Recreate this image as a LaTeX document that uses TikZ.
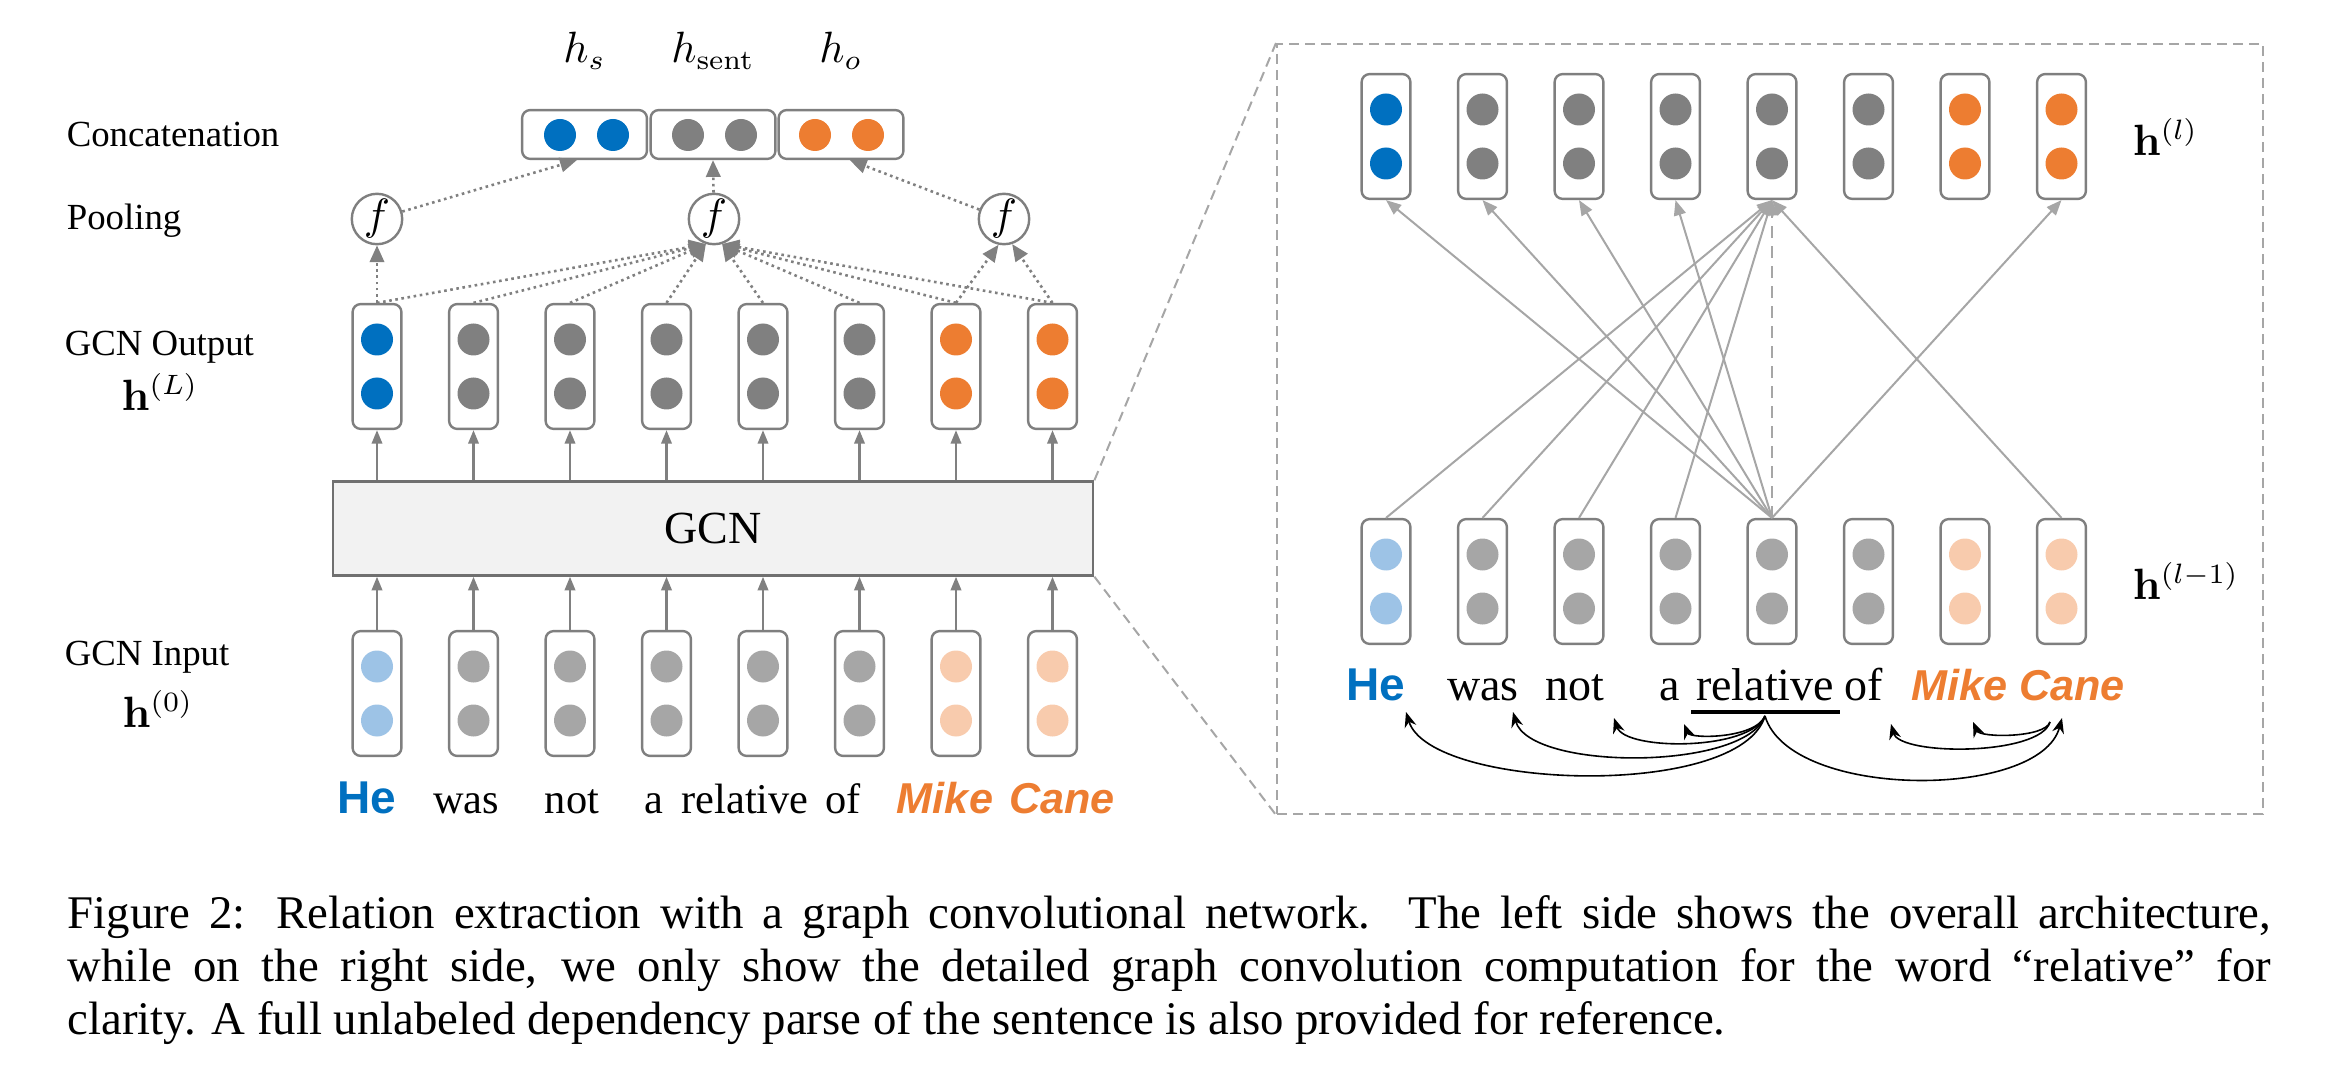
\documentclass[tikz,border=0pt]{standalone}
\usepackage[no-math]{fontspec}
\setmainfont{Liberation Serif}
\newfontfamily\sansf{Liberation Sans}
\usetikzlibrary{arrows.meta,calc}
\definecolor{cblue}{HTML}{0070C0}
\definecolor{lblue}{HTML}{9DC3E6}
\definecolor{cgray}{HTML}{808080}
\definecolor{lgray}{HTML}{A6A6A6}
\definecolor{corange}{HTML}{ED7D31}
\definecolor{lorange}{HTML}{F8CBAD}
\definecolor{bord}{HTML}{7F7F7F}
\definecolor{gcnfill}{HTML}{F2F2F2}
\definecolor{gcnbord}{HTML}{707070}
\begin{document}
\begin{tikzpicture}[x=0.25pt,y=-0.25pt,
  vbox/.style={draw=bord, line width=0.6pt, rounded corners=2pt, minimum width=12.2pt, minimum height=31.2pt, inner sep=0pt},
  cbox/.style={draw=bord, line width=0.6pt, rounded corners=2pt, minimum width=31.2pt, minimum height=12.2pt, inner sep=0pt},
  gcnbox/.style={draw=gcnbord, fill=gcnfill, line width=0.7pt, minimum width=190pt, minimum height=23.4pt, inner sep=0pt, font=\fontsize{11.5pt}{13pt}\selectfont},
  pool/.style={draw=bord, line width=0.6pt, circle, minimum size=12.6pt, inner sep=0pt, font=\fontsize{10.5pt}{12pt}\selectfont},
  solidarr/.style={draw=cgray, line width=0.6pt, -{Triangle[length=3.4pt,width=2.6pt]}},
  dotarr/.style={draw=cgray, line width=0.65pt, dash pattern=on 0.65pt off 0.9pt, -{Triangle[length=4.2pt,width=3.6pt]}},
  garr/.style={draw=lgray, line width=0.5pt, -{Triangle[length=3.8pt,width=3pt]}},
  parr/.style={draw=black, line width=0.4pt, -{Stealth[length=3.8pt,width=3pt]}},
  lab/.style={font=\fontsize{9.2pt}{11pt}\selectfont, inner sep=0pt, anchor=base west},
  mlab/.style={font=\fontsize{10.5pt}{12pt}\selectfont, inner sep=0pt},
  word/.style={font=\fontsize{11.5pt}{13pt}\selectfont, inner sep=0pt, anchor=base},
  lword/.style={font=\fontsize{10.6pt}{13pt}\selectfont, inner sep=0pt, anchor=base},
  sword/.style={font=\fontsize{10.8pt}{13pt}\selectfont\sansf\bfseries\itshape, text=corange, inner sep=0pt, anchor=base},
  heword/.style={font=\fontsize{11.5pt}{13pt}\selectfont\sansf\bfseries, text=cblue, inner sep=0pt, anchor=base},
  dashbox/.style={draw=lgray, line width=0.5pt, dash pattern=on 2.5pt off 1.5pt, minimum width=246.5pt, minimum height=192.5pt, inner sep=0pt, anchor=north west},
  dashline/.style={draw=lgray, line width=0.5pt, dash pattern=on 2.5pt off 1.5pt}
]
\useasboundingbox (0,0) rectangle (2326,1080);

% ---------- left labels ----------
\node[lab] (lconcat) at (66,147) {Concatenation};
\node[lab] (lpool) at (66,230) {Pooling};
\node[lab] (lout) at (64,355) {GCN Output};
\node[mlab] (hL) at (160,392) {$\mathbf{h}^{(L)}$};
\node[lab] (lin) at (64,665) {GCN Input};
\node[mlab] (h0) at (158,709) {$\mathbf{h}^{(0)}$};

% ---------- concatenation ----------
\node[cbox] (c1) at (584.5,134.5) {};
\node[cbox] (c2) at (713,134.5) {};
\node[cbox] (c3) at (841,134.5) {};
\fill[cblue] (560,135) circle[radius=4pt] (613,135) circle[radius=4pt];
\fill[cgray] (688,135) circle[radius=4pt] (741,135) circle[radius=4pt];
\fill[corange] (815,135) circle[radius=4pt] (868,135) circle[radius=4pt];
\node[mlab, anchor=base] (hs) at (584.5,63) {$h_s$};
\node[mlab, anchor=base] (hsent) at (713,63) {$h_{\mathrm{sent}}$};
\node[mlab, anchor=base] (ho) at (841,63) {$h_o$};

% ---------- pooling ----------
\node[pool] (pL) at (377,219) {$f$};
\node[pool] (pM) at (714,219) {$f$};
\node[pool] (pR) at (1004,219) {$f$};
\draw[dotarr] (pL) -- ([xshift=-1.9pt]c1.south);
\draw[dotarr] (pM) -- (c2.south);
\draw[dotarr] (pR) -- ([xshift=2.2pt]c3.south);

% ---------- GCN ----------
\node[gcnbox] (gcn) at (713,528.5) {GCN};

% ---------- left columns ----------
\foreach \i/\c/\lc in {1/cblue/lblue,2/cgray/lgray,3/cgray/lgray,4/cgray/lgray,5/cgray/lgray,6/cgray/lgray,7/corange/lorange,8/corange/lorange}{
  \pgfmathsetmacro\xx{377+96.5*(\i-1)}
  \node[vbox] (o\i) at (\xx,366.5) {};
  \fill[\c] (\xx,339.5) circle[radius=4pt] (\xx,393.5) circle[radius=4pt];
  \node[vbox] (i\i) at (\xx,693.5) {};
  \fill[\lc] (\xx,666.5) circle[radius=4pt] (\xx,720.5) circle[radius=4pt];
  \draw[solidarr] (gcn.north -| o\i.south) -- (o\i.south);
  \draw[solidarr] (i\i.north) -- (i\i.north |- gcn.south);
}
\draw[dotarr] (o1.north) -- (pL.south);
\foreach \i in {1,2,3,4}{\draw[dotarr] (o\i.north) -- (pM.252);}
\foreach \i in {5,6,7,8}{\draw[dotarr] (o\i.north) -- (pM.288);}
\draw[dotarr] (o7.north) -- (pR.258);
\draw[dotarr] (o8.north) -- (pR.288);

% ---------- left words ----------
\node[heword] (lHe) at (367,813) {He};
\node[lword] (lwas) at (466,813) {was};
\node[lword] (lnot) at (572,813) {not};
\node[lword] (la) at (654,813) {a};
\node[lword] (lrel) at (745,813) {relative};
\node[lword] (lof) at (843,813) {of};
\node[sword] (lMike) at (945,813) {Mike};
\node[sword] (lCane) at (1062,813) {Cane};

% ---------- zoom box ----------
\node[dashbox] (zoom) at (1276,43) {};
\draw[dashline] (gcn.north east) -- (zoom.north west);
\draw[dashline] (gcn.south east) -- (zoom.south west);

% ---------- right columns ----------
\foreach \i/\c/\lc in {1/cblue/lblue,2/cgray/lgray,3/cgray/lgray,4/cgray/lgray,5/cgray/lgray,6/cgray/lgray,7/corange/lorange,8/corange/lorange}{
  \pgfmathsetmacro\xx{1386+96.5*(\i-1)}
  \node[vbox] (t\i) at (\xx,136.5) {};
  \fill[\c] (\xx,109.5) circle[radius=4pt] (\xx,163.5) circle[radius=4pt];
  \node[vbox] (b\i) at (\xx,581.5) {};
  \fill[\lc] (\xx,554.5) circle[radius=4pt] (\xx,608.5) circle[radius=4pt];
}
\foreach \j in {1,2,3,4,8}{
  \draw[garr] (b5.north) -- (t\j.south);
  \draw[garr] (b\j.north) -- (t5.south);
}
\draw[garr, dash pattern=on 3pt off 2pt] (b5.north) -- (t5.south);
\node[mlab, anchor=west] (hl) at (2132,137) {$\mathbf{h}^{(l)}$};
\node[mlab, anchor=west] (hl1) at (2132,581) {$\mathbf{h}^{(l-1)}$};

% ---------- right words ----------
\node[heword] (rHe) at (1376,700) {He};
\node[word] (rwas) at (1483,700) {was};
\node[word] (rnot) at (1575,700) {not};
\node[word] (ra) at (1670,700) {a};
\node[word] (rrel) at (1765,700) {relative};
\node[word] (rof) at (1864,700) {of};
\node[sword] (rMC) at (2018,700) {Mike Cane};
\draw[line width=0.8pt] (1691,712) -- (1840,712);

\coordinate (rs) at (1765,716);
\coordinate (cs) at (2050,722);
\draw[parr] (rs) .. controls (1740,800) and (1430,790) .. (1406,712);
\draw[parr] (rs) .. controls (1745,771) and (1530,771) .. (1513,712);
\draw[parr] (rs) .. controls (1750,751) and (1625,751) .. (1614,718);
\draw[parr] (rs) .. controls (1755,739) and (1690,739) .. (1684,724);
\draw[parr] (rs) .. controls (1790,800) and (2040,800) .. (2062,718);
\draw[parr] (cs) .. controls (2040,756) and (1900,756) .. (1891,724);
\draw[parr] (cs) .. controls (2045,738) and (1980,738) .. (1973,722);

% ---------- caption ----------
\node[anchor=north west, inner sep=0pt, text width=550.75pt, align=justify,
      font=\fontsize{11.7pt}{13.2pt}\selectfont] (cap) at (67,895)
 {Figure 2: Relation extraction with a graph convolutional network. The left side shows the overall architecture,\linebreak
 while on the right side, we only show the detailed graph convolution computation for the word “relative” for\linebreak
 clarity. A full unlabeled dependency parse of the sentence is also provided for reference.};
\end{tikzpicture}
\end{document}
